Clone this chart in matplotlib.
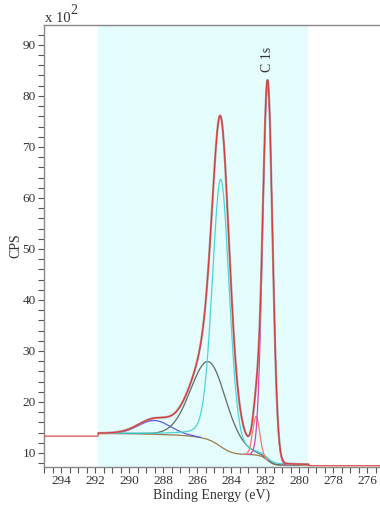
import numpy as np
import matplotlib
matplotlib.use("Agg")
import matplotlib.pyplot as plt

plt.rcParams['font.family'] = ['Liberation Serif', 'DejaVu Serif']

# fit region and Shirley end points (x 10^2 CPS)
region_hi = 291.8
region_lo = 279.45
bg_hi = 13.8
bg_lo = 7.6
flat_left = 13.3   # measured counts outside the region, high BE side
flat_right = 7.5   # low BE side

# fitted components (centre eV, height above background, FWHM eV, lorentz fraction)
peak_centers = [288.5, 285.3, 284.6, 282.52, 281.85]
peak_heights = [2.7, 15.3, 52.4, 7.6, 73.9]
peak_fwhm = [2.2, 2.5, 1.18, 0.48, 0.68]
peak_mix = [0.0, 0.05, 0.2, 0.0, 0.0]
peak_colors = ['#5b5be4', '#5f6a6a', '#4fd4d6', '#f07c6c', '#d644b4']

x_ticks = [294, 292, 290, 288, 286, 284, 282, 280, 278, 276]
y_ticks = [10, 20, 30, 40, 50, 60, 70, 80, 90]

E = np.linspace(region_lo, region_hi, 800)

def gl(x, c, h, w, m):
    s = w / 2.3548
    g = np.exp(-(x - c) ** 2 / (2 * s * s))
    l = 1 / (1 + (2 * (x - c) / w) ** 2)
    return h * ((1 - m) * g + m * l)

comps = [gl(E, c, h, w, m) for c, h, w, m in zip(peak_centers, peak_heights, peak_fwhm, peak_mix)]
signal = np.sum(comps, axis=0)
area = np.concatenate([[0], np.cumsum((signal[1:] + signal[:-1]) / 2 * np.diff(E))])
bg = bg_lo + (bg_hi - bg_lo) * area / area[-1]
envelope = bg + signal

meas_x = np.concatenate([[295.0, region_hi + 0.02], E[::-1], [region_lo - 0.02, 275.2]])
meas_y = np.concatenate([[flat_left, flat_left], envelope[::-1], [flat_right, flat_right]])

fig = plt.figure(figsize=(3.8, 5.08), dpi=100)
ax = fig.add_axes([0.1158, 0.0807, 0.8842, 0.8701])

ax.axvspan(region_lo, region_hi, color='#e5fcfc', lw=0, zorder=0)
for comp, col in zip(comps, peak_colors):
    y = np.where(comp > 0.04, bg + comp, np.nan)
    ax.plot(E, y, color=col, lw=0.9, zorder=3)
ax.plot(E, bg, color='#9c7a4c', lw=0.9, zorder=2)
ax.plot(E, envelope, color='#b89090', lw=1.6, zorder=4)
ax.plot(meas_x, meas_y, color='#d8393b', lw=0.8, zorder=5)

ax.set_xlim(295.0, 275.24)
ax.set_ylim(7.25, 93.9)
ax.set_xticks(x_ticks)
ax.set_xticks(np.arange(275.5, 295.01, 0.5), minor=True)
ax.set_yticks(y_ticks)
ax.set_yticks(np.arange(8, 94, 2), minor=True)
ax.tick_params(which='both', direction='out', length=4, width=0.8, color='#555555',
               labelsize=9.5, labelcolor='#333333', pad=2)

for side in ['left', 'top', 'bottom']:
    ax.spines[side].set_color('#888888')
    ax.spines[side].set_linewidth(1.0)
ax.spines['right'].set_visible(False)

ax.set_xlabel('Binding Energy (eV)', fontsize=10, color='#333333', labelpad=1)
ax.set_ylabel('CPS', fontsize=10, color='#333333', labelpad=0)
ax.annotate('x 10', xy=(0, 1), xycoords='axes fraction', xytext=(0.5, 0),
            textcoords='offset points', ha='left', va='bottom', fontsize=10.5, color='#333333')
ax.annotate('2', xy=(0, 1), xycoords='axes fraction', xytext=(19, 6),
            textcoords='offset points', ha='left', va='bottom', fontsize=10, color='#333333')
ax.text(peak_centers[4], 84.6, 'C 1s', rotation=90, ha='center', va='bottom',
        fontsize=10, color='#333333')

fig.savefig('out.png', dpi=100)
